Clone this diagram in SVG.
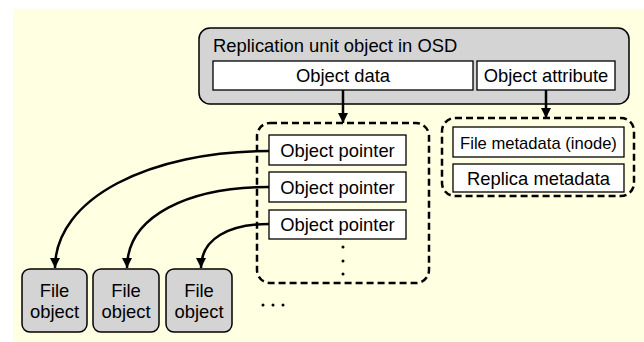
<svg xmlns="http://www.w3.org/2000/svg" width="644" height="342" viewBox="0 0 644 342">
  <defs>
    <style>
      text { font-family: "Liberation Sans", Arial, sans-serif; font-size: 18.4px; fill: #000; }
      .mid { text-anchor: middle; }
      .unit { fill: #d4d4d4; stroke: #000; stroke-width: 1.5; }
      .cell { fill: #fff; stroke: #000; stroke-width: 1.3; }
      .group { fill: none; stroke: #000; stroke-width: 2.5; stroke-dasharray: 7 4; }
      .link { fill: none; stroke: #000; stroke-width: 2.5; marker-end: url(#arrow); }
      .dot { fill: #000; }
    </style>
    <marker id="arrow" markerUnits="userSpaceOnUse" markerWidth="12" markerHeight="12" refX="10" refY="5" orient="auto">
      <path d="M0,0 L10,5 L0,10 Z" fill="#000"/>
    </marker>
  </defs>

  <!-- page background -->
  <rect x="13" y="9" width="631" height="333" fill="#ffffe1"/>

  <!-- replication unit object -->
  <g id="replication-unit">
    <rect class="unit" x="199" y="28" width="430" height="76" rx="11"/>
    <text x="213" y="52">Replication unit object in OSD</text>
  </g>
  <g id="object-data">
    <rect class="cell" x="213" y="61" width="260" height="29"/>
    <text class="mid" x="343" y="82">Object data</text>
  </g>
  <g id="object-attribute">
    <rect class="cell" x="477" y="61" width="138" height="29"/>
    <text class="mid" x="546" y="82">Object attribute</text>
  </g>

  <!-- pointer table -->
  <g id="pointer-table">
    <rect class="group" x="257" y="123" width="172" height="160" rx="13"/>
    <circle class="dot" cx="343" cy="247" r="1.5"/>
    <circle class="dot" cx="343" cy="261" r="1.5"/>
    <circle class="dot" cx="343" cy="274" r="1.5"/>
  </g>
  <g id="pointer-1">
    <rect class="cell" x="269" y="135" width="137" height="30"/>
    <text class="mid" x="337.5" y="156.5">Object pointer</text>
  </g>
  <g id="pointer-2">
    <rect class="cell" x="269" y="172" width="137" height="30"/>
    <text class="mid" x="337.5" y="193.5">Object pointer</text>
  </g>
  <g id="pointer-3">
    <rect class="cell" x="269" y="210" width="137" height="29"/>
    <text class="mid" x="337.5" y="231">Object pointer</text>
  </g>

  <!-- metadata group -->
  <g id="metadata">
    <rect class="group" x="442" y="118" width="192" height="78" rx="13"/>
  </g>
  <g id="file-metadata">
    <rect class="cell" x="453" y="127" width="171" height="30"/>
    <text class="mid" x="538.5" y="149" style="font-size:16.6px">File metadata (inode)</text>
  </g>
  <g id="replica-metadata">
    <rect class="cell" x="453" y="164" width="171" height="28"/>
    <text class="mid" x="538.5" y="184.5">Replica metadata</text>
  </g>

  <!-- file objects -->
  <g id="file-object-1">
    <rect class="unit" x="22" y="269" width="65" height="63" rx="8"/>
    <text class="mid" x="54.5" y="297">File</text>
    <text class="mid" x="54.5" y="318">object</text>
  </g>
  <g id="file-object-2">
    <rect class="unit" x="93" y="269" width="66" height="63" rx="8"/>
    <text class="mid" x="126" y="297">File</text>
    <text class="mid" x="126" y="318">object</text>
  </g>
  <g id="file-object-3">
    <rect class="unit" x="166" y="269" width="66" height="63" rx="8"/>
    <text class="mid" x="199" y="297">File</text>
    <text class="mid" x="199" y="318">object</text>
  </g>
  <g id="more-files">
    <circle class="dot" cx="263" cy="305" r="1.5"/>
    <circle class="dot" cx="273" cy="305" r="1.5"/>
    <circle class="dot" cx="283" cy="305" r="1.5"/>
  </g>

  <!-- connectors -->
  <g id="connectors">
    <path class="link" d="M343,90 L343,123"/>
    <path class="link" d="M546,90 L546,118"/>
    <path class="link" d="M269,151 C150,151 55,198 55,268"/>
    <path class="link" d="M269,187 C190,187 127,215 127,268"/>
    <path class="link" d="M269,224 C230,224 201,238 201,268"/>
  </g>
</svg>
